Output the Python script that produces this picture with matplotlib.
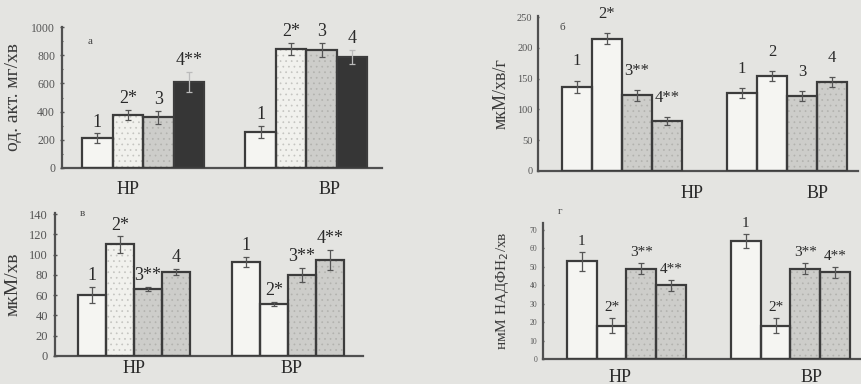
import matplotlib.pyplot as plt
import numpy as np

plt.rcParams['font.family'] = ['Liberation Serif', 'DejaVu Serif']
plt.rcParams['hatch.linewidth'] = 0.5

groups = ['НР', 'ВР']

# panel а
a_hp = [210, 375, 360, 610]
a_bp = [255, 845, 840, 790]
a_err_hp = [35, 35, 45, 70]
a_err_bp = [45, 45, 50, 50]
a_lab_hp = ['1', '2*', '3', '4**']
a_lab_bp = ['1', '2*', '3', '4']

# panel б
b_hp = [137, 215, 123, 81]
b_bp = [127, 155, 122, 145]
b_err_hp = [10, 9, 9, 6]
b_err_bp = [8, 8, 8, 8]
b_lab_hp = ['1', '2*', '3**', '4**']
b_lab_bp = ['1', '2', '3', '4']

# panel в
c_hp = [60, 110, 66, 83]
c_bp = [93, 51, 80, 95]
c_err_hp = [8, 8, 2, 3]
c_err_bp = [5, 2, 7, 10]
c_lab_hp = ['1', '2*', '3**', '4']
c_lab_bp = ['1', '2*', '3**', '4**']

# panel г
d_hp = [53, 18, 49, 40]
d_bp = [64, 18, 49, 47]
d_err_hp = [5, 4, 3, 3]
d_err_bp = [4, 4, 3, 3]
d_lab_hp = ['1', '2*', '3**', '4**']
d_lab_bp = ['1', '2*', '3**', '4**']

BG = '#e4e4e1'
INK = '#3c3c3c'
FILLS = {'white': '#f5f5f2', 'dots': '#f1f1ed', 'gray': '#cdcdca', 'dark': '#363636'}
HATCH = {'dots': '#c4c4c0', 'gray': '#b2b2ae'}

W, H = 862, 384
fig = plt.figure(figsize=(W / 100, H / 100), dpi=100, facecolor=BG)


def axes_px(left, top, right, bottom):
    return fig.add_axes([left / W, 1 - bottom / H, (right - left) / W, (bottom - top) / H])


def panel(ax, hp, bp, ehp, ebp, lhp, lbp, fills, offset, xlim, ylim, yticks,
          ylabel, ylab_fs, label_x, xlab_x, xpad, fs_num, fs_tick, off_pt):
    ax.set_facecolor('none')
    xs_hp = np.arange(4)
    xs_bp = np.arange(4) + offset
    for xs, vals, errs, labs, fl in [(xs_hp, hp, ehp, lhp, fills[0]), (xs_bp, bp, ebp, lbp, fills[1])]:
        for x, v, e, lab, f in zip(xs, vals, errs, labs, fl):
            hatch = '...' if f in ('dots', 'gray') else None
            ax.bar(x, v, 1.0, color=FILLS[f], edgecolor=HATCH.get(f, FILLS[f]),
                   linewidth=0, hatch=hatch, zorder=2)
            ax.bar(x, v, 1.0, fill=False, edgecolor=INK, linewidth=1.6, zorder=3)
            ax.errorbar(x, v, yerr=e, fmt='none', ecolor='#555555' if f != 'dark' else '#bbbbbb',
                        elinewidth=0.9, capsize=2.5, capthick=0.9, zorder=4)
            ax.annotate(lab, (x, v + e), xytext=(0, off_pt), textcoords='offset points',
                        ha='center', va='bottom', fontsize=fs_num, color='#2a2a2a')
    ax.set_xlim(*xlim)
    ax.set_ylim(*ylim)
    ax.set_yticks(yticks)
    ax.tick_params(axis='y', labelsize=fs_tick, colors='#555555', length=3, width=1, direction='inout')
    ax.set_xticks(xlab_x)
    ax.set_xticklabels(groups, fontsize=13, color='#2a2a2a')
    ax.tick_params(axis='x', length=0, pad=xpad)
    for s in ['top', 'right']:
        ax.spines[s].set_visible(False)
    for s in ['left', 'bottom']:
        ax.spines[s].set_color('#505050')
        ax.spines[s].set_linewidth(1.6)
    ax.set_ylabel(ylabel, fontsize=ylab_fs, color='#3a3a3a')
    ax.yaxis.set_label_coords(label_x, 0.5)


ax_a = axes_px(62, 27, 382, 168)
panel(ax_a, a_hp, a_bp, a_err_hp, a_err_bp, a_lab_hp, a_lab_bp,
      [['white', 'dots', 'gray', 'dark'], ['white', 'dots', 'gray', 'dark']],
      5.35, (-1.16, 9.33), (0, 1000), np.arange(0, 1001, 200),
      'од. акт. мг/хв', 14, -0.125, [1.0, 7.6], 9, 13, 8.5, 2)
ax_a.set_yticks(np.arange(0, 1001, 100), minor=True)
ax_a.tick_params(axis='y', which='minor', length=2, width=0.8, direction='inout', colors='#555555')

ax_b = axes_px(538, 16, 858, 171)
panel(ax_b, b_hp, b_bp, b_err_hp, b_err_bp, b_lab_hp, b_lab_bp,
      [['white', 'white', 'gray', 'gray'], ['white', 'white', 'gray', 'gray']],
      5.5, (-1.3, 9.37), (0, 252), np.arange(0, 251, 50),
      'мкМ/хв/г', 13, -0.09, [3.83, 8.03], 10, 12, 7.5, 8)
ax_b.tick_params(axis='y', length=1)

ax_c = axes_px(55, 213, 363, 356)
panel(ax_c, c_hp, c_bp, c_err_hp, c_err_bp, c_lab_hp, c_lab_bp,
      [['white', 'dots', 'gray', 'gray'], ['white', 'white', 'gray', 'gray']],
      5.5, (-1.32, 9.68), (0, 141), np.arange(0, 141, 20),
      'мкМ/хв', 14, -0.11, [1.5, 7.11], 3, 13, 9, 2)

ax_d = axes_px(543, 223, 862, 359)
panel(ax_d, d_hp, d_bp, d_err_hp, d_err_bp, d_lab_hp, d_lab_bp,
      [['white', 'white', 'gray', 'gray'], ['white', 'white', 'gray', 'gray']],
      5.5, (-1.3, 9.4), (0, 73.8), np.arange(0, 71, 10),
      'нмМ НАДФН$_2$/хв', 11, -0.10, [1.3, 7.7], 7, 11, 5.5, 3)
ax_d.tick_params(axis='y', length=1.5)

for x, y, t in [(90, 42, 'а'), (562, 27, 'б'), (82, 213, 'в'), (560, 212, 'г')]:
    fig.text(x / W, 1 - y / H, t, fontsize=8, color='#444444', ha='center', va='center')

fig.savefig('out.png', dpi=100, facecolor=BG)
